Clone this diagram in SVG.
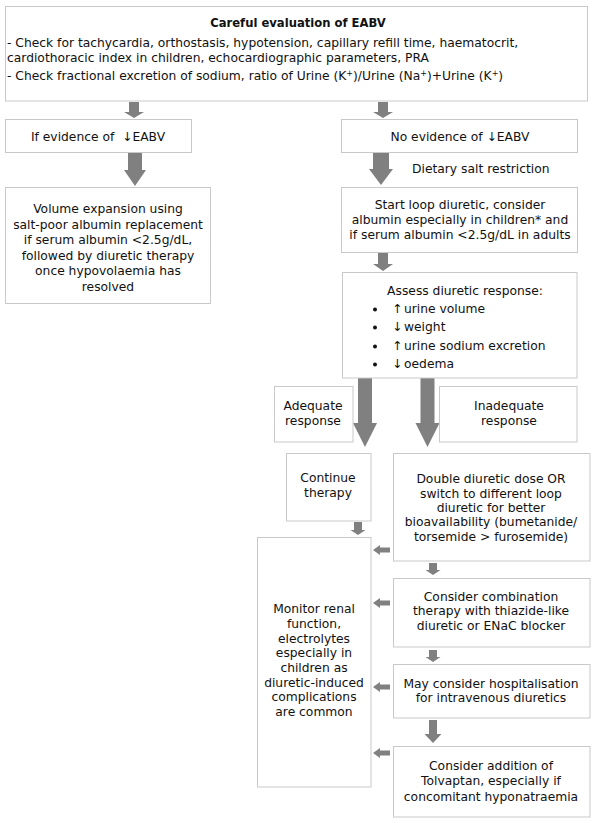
<svg xmlns="http://www.w3.org/2000/svg" width="597" height="823" viewBox="0 0 597 823">
<style>
.box{fill:#fff;stroke:#c9c9c9;stroke-width:1}
.arr{fill:#808080}
.dot{fill:#111}
text{font-family:"DejaVu Sans","Liberation Sans",Arial,sans-serif;font-size:12.3px;fill:#111}
.c{text-anchor:middle}
.b{font-weight:bold;font-size:11.6px}
</style>
<rect width="597" height="823" fill="#fff"/>
<g id="connectors">
<polygon class="arr" points="129,102 139,102 139,112 144,112 134,118 124,112 129,112"/>
<polygon class="arr" points="378,102 388,102 388,112 393,112 383,118 373,112 378,112"/>
<polygon class="arr" points="128,152 142,152 142,170 146,170 135,186 124,170 128,170"/>
<polygon class="arr" points="373,152 389,152 389,169 393,169 381,185 369,169 373,169"/>
<polygon class="arr" points="378,253 388,253 388,264 393,264 383,271 373,264 378,264"/>
<polygon class="arr" points="358,378 372,378 372,423 377,423 365,447 353,423 358,423"/>
<polygon class="arr" points="420.5,378 434.5,378 434.5,423 439.5,423 427.5,447 415.5,423 420.5,423"/>
<polygon class="arr" points="354,522 362,522 362,530 365.5,530 358,535 350.5,530 354,530"/>
<polygon class="arr" points="429,563 437,563 437,570 440.5,570 433,575 425.5,570 429,570"/>
<polygon class="arr" points="429,650 437,650 437,657 440.5,657 433,662 425.5,657 429,657"/>
<polygon class="arr" points="429,720 437,720 437,734 441.5,734 433,743 424.5,734 429,734"/>
<polygon class="arr" points="390,547.5 380,547.5 380,545 373,550 380,555 380,552.5 390,552.5"/>
<polygon class="arr" points="390,600.5 380,600.5 380,598 373,603 380,608 380,605.5 390,605.5"/>
<polygon class="arr" points="390,684.5 380,684.5 380,682 373,687 380,692 380,689.5 390,689.5"/>
<polygon class="arr" points="390,750.5 380,750.5 380,748 373,753 380,758 380,755.5 390,755.5"/>
</g>
<g id="evaluation">
<rect class="box" x="5.5" y="6.5" width="582" height="94.5"/>
<text class="c b" x="298" y="27">Careful evaluation of EABV</text>
<text x="7" y="47">- Check for tachycardia, orthostasis, hypotension, capillary refill time, haematocrit,</text>
<text x="7" y="62">cardiothoracic index in children, echocardiographic parameters, PRA</text>
<text x="7" y="80">- Check fractional excretion of sodium, ratio of Urine (K<tspan dy="-4" font-size="8">+</tspan><tspan dy="4">)/Urine (Na</tspan><tspan dy="-4" font-size="8">+</tspan><tspan dy="4">)+Urine (K</tspan><tspan dy="-4" font-size="8">+</tspan><tspan dy="4">)</tspan></text>
</g>
<g id="if-evidence">
<rect class="box" x="5.5" y="119.5" width="186" height="33"/>
<text class="c" x="98" y="141" xml:space="preserve">If evidence of  ↓EABV</text>
</g>
<g id="no-evidence">
<rect class="box" x="341.5" y="119.5" width="236" height="33"/>
<text class="c" x="460" y="141">No evidence of ↓EABV</text>
</g>
<g id="salt-label">
<text x="412" y="173">Dietary salt restriction</text>
</g>
<g id="volume-expansion">
<rect class="box" x="5.5" y="187.5" width="205" height="116"/>
<text class="c" x="108" y="213">Volume expansion using</text>
<text class="c" x="108" y="228.5">salt-poor albumin replacement</text>
<text class="c" x="108" y="244">if serum albumin &lt;2.5g/dL,</text>
<text class="c" x="108" y="259.5">followed by diuretic therapy</text>
<text class="c" x="108" y="275">once hypovolaemia has</text>
<text class="c" x="108" y="290.5">resolved</text>
</g>
<g id="start-loop">
<rect class="box" x="341.5" y="187.5" width="236" height="65"/>
<text class="c" x="460" y="209">Start loop diuretic, consider</text>
<text class="c" x="460" y="224">albumin especially in children* and</text>
<text class="c" x="460" y="239">if serum albumin &lt;2.5g/dL in adults</text>
</g>
<g id="assess">
<rect class="box" x="342.5" y="272.5" width="234.5" height="105.5"/>
<text class="c" x="465" y="295">Assess diuretic response:</text>
<circle class="dot" cx="375" cy="309.5" r="2"/><text x="392" y="313">↑</text><text x="404" y="313">urine volume</text>
<circle class="dot" cx="375" cy="327.5" r="2"/><text x="392" y="331">↓</text><text x="404" y="331">weight</text>
<circle class="dot" cx="375" cy="346.5" r="2"/><text x="392" y="350">↑</text><text x="404" y="350">urine sodium excretion</text>
<circle class="dot" cx="375" cy="364.5" r="2"/><text x="392" y="368">↓</text><text x="404" y="368">oedema</text>
</g>
<g id="adequate">
<rect class="box" x="274.5" y="386.5" width="78.5" height="55.5"/>
<text class="c" x="313" y="410">Adequate</text>
<text class="c" x="313" y="425">response</text>
</g>
<g id="inadequate">
<rect class="box" x="439.5" y="386.5" width="137.5" height="55.5"/>
<text class="c" x="509" y="410">Inadequate</text>
<text class="c" x="509" y="425">response</text>
</g>
<g id="continue">
<rect class="box" x="286.5" y="453.5" width="84.5" height="67.5"/>
<text class="c" x="328" y="482">Continue</text>
<text class="c" x="328" y="497">therapy</text>
</g>
<g id="double-dose">
<rect class="box" x="393.5" y="453.5" width="196.5" height="107.5"/>
<text class="c" x="491" y="483">Double diuretic dose OR</text>
<text class="c" x="491" y="497.5">switch to different loop</text>
<text class="c" x="491" y="511.5">diuretic for better</text>
<text class="c" x="491" y="526">bioavailability (bumetanide/</text>
<text class="c" x="491" y="540.5">torsemide &gt; furosemide)</text>
</g>
<g id="monitor">
<rect class="box" x="257.5" y="537.5" width="113.5" height="249.5"/>
<text class="c" x="314" y="613">Monitor renal</text>
<text class="c" x="314" y="628">function,</text>
<text class="c" x="314" y="642.5">electrolytes</text>
<text class="c" x="314" y="657">especially in</text>
<text class="c" x="314" y="672">children as</text>
<text class="c" x="314" y="686.5">diuretic-induced</text>
<text class="c" x="314" y="701">complications</text>
<text class="c" x="314" y="716">are common</text>
</g>
<g id="combination">
<rect class="box" x="393.5" y="578.5" width="196.5" height="68.5"/>
<text class="c" x="491" y="600.5">Consider combination</text>
<text class="c" x="491" y="615">therapy with thiazide-like</text>
<text class="c" x="491" y="629.5">diuretic or ENaC blocker</text>
</g>
<g id="hospitalisation">
<rect class="box" x="393.5" y="664.5" width="196.5" height="53.5"/>
<text class="c" x="491" y="687.5">May consider hospitalisation</text>
<text class="c" x="491" y="701.5">for intravenous diuretics</text>
</g>
<g id="tolvaptan">
<rect class="box" x="393.5" y="746.5" width="196.5" height="70.5"/>
<text class="c" x="491" y="769.5">Consider addition of</text>
<text class="c" x="491" y="785">Tolvaptan, especially if</text>
<text class="c" x="491" y="800.5">concomitant hyponatraemia</text>
</g>
</svg>
